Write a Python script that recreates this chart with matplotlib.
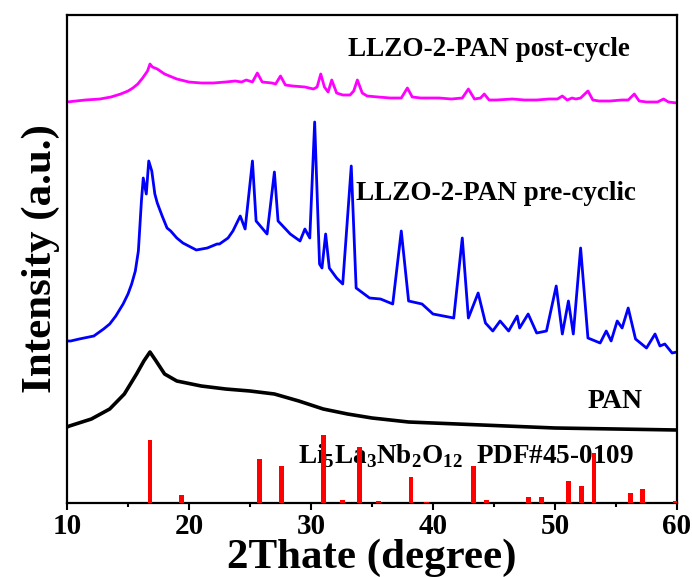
import matplotlib

matplotlib.use("Agg")
import matplotlib.pyplot as plt
from matplotlib.ticker import MultipleLocator

plt.rcParams["font.family"] = ["Liberation Serif", "DejaVu Serif"]
plt.rcParams["font.weight"] = "bold"
plt.rcParams["mathtext.fontset"] = "custom"
plt.rcParams["mathtext.rm"] = "Liberation Serif:bold"

# Post-cycle pattern (offset, arbitrary units)
post_x = [10.0, 11.5, 12.7, 13.6, 14.4, 15.0, 15.4, 15.8, 16.2, 16.6, 16.8, 17.0,
          17.4, 18.0, 19.0, 20.0, 21.0, 22.0, 23.0, 23.8, 24.3, 24.7, 25.2, 25.6,
          26.0, 26.8, 27.1, 27.5, 27.9, 28.5, 29.5, 30.2, 30.5, 30.8, 31.1, 31.4,
          31.7, 32.1, 32.6, 33.2, 33.5, 33.8, 34.2, 34.6, 35.5, 36.5, 37.4, 37.9,
          38.3, 39.0, 40.5, 41.5, 42.4, 42.9, 43.4, 43.9, 44.2, 44.6, 45.2, 46.5,
          47.5, 48.5, 49.5, 50.2, 50.6, 51.0, 51.4, 51.7, 52.1, 52.7, 53.1, 53.6,
          54.5, 55.5, 56.0, 56.5, 56.9, 57.5, 58.4, 58.9, 59.3, 60.0]
post_y = [401, 403, 404, 406, 409, 412, 415, 419, 425, 432, 439, 436,
          434, 429, 424, 421, 420, 420, 421, 422, 421, 423, 421, 430,
          421, 420, 419, 427, 418, 417, 416, 414, 416, 429, 416, 411,
          423, 410, 408, 408, 412, 423, 410, 407, 406, 405, 405, 415,
          406, 405, 405, 404, 405, 414, 404, 405, 409, 403, 403, 404,
          403, 403, 404, 404, 407, 403, 405, 404, 405, 412, 403, 402,
          402, 403, 403, 409, 402, 401, 401, 404, 401, 400]

# Pre-cycle pattern
pre_x = [10.0, 10.3, 11.0, 12.2, 13.0, 13.5, 14.0, 14.6, 15.0, 15.3, 15.6, 15.85,
         16.1, 16.25, 16.5, 16.7, 16.95, 17.2, 17.4, 17.8, 18.2, 18.5, 19.0, 19.5,
         20.6, 21.5, 22.3, 22.5, 23.2, 23.6, 24.2, 24.6, 25.2, 25.5, 26.4, 27.0,
         27.3, 28.3, 29.1, 29.5, 29.9, 30.3, 30.7, 30.9, 31.2, 31.5, 32.1, 32.6,
         33.3, 33.7, 34.8, 35.7, 36.7, 37.4, 38.0, 39.1, 40.0, 41.7, 42.4, 42.9,
         43.7, 44.3, 44.9, 45.5, 46.2, 46.9, 47.1, 47.8, 48.5, 49.3, 50.1, 50.6,
         51.1, 51.5, 52.1, 52.7, 53.7, 54.2, 54.6, 55.1, 55.5, 56.0, 56.6, 57.5,
         58.2, 58.6, 59.0, 59.6, 60.0]
pre_y = [162, 162, 164, 167, 174, 179, 187, 199, 209, 219, 232, 252,
         302, 325, 309, 342, 332, 309, 300, 287, 275, 272, 265, 260,
         253, 255, 259, 259, 265, 272, 287, 274, 342, 282, 269, 331,
         282, 269, 262, 274, 265, 381, 239, 235, 269, 235, 225, 219,
         337, 215, 205, 204, 199, 272, 202, 199, 189, 185, 265, 185,
         210, 180, 172, 182, 172, 187, 175, 189, 170, 172, 217, 169,
         202, 169, 255, 165, 160, 172, 162, 182, 175, 195, 164, 155,
         169, 157, 159, 150, 151]

# PAN pattern
pan_x = [10.0, 10.2, 12.0, 13.5, 14.7, 15.7, 16.3, 16.8, 17.3, 18.0, 19.0, 21.0,
         23.0, 25.0, 27.0, 29.0, 31.0, 33.0, 35.0, 38.0, 42.0, 46.0, 50.0, 55.0,
         60.0]
pan_y = [76, 77, 84, 94, 109, 129, 142, 151, 142, 129, 122, 117,
         114, 112, 109, 102, 94, 89, 85, 81, 79, 77, 75, 74,
         73]

# Reference pattern Li5La3Nb2O12, PDF#45-0109
ref_pos = [16.8, 19.4, 25.8, 27.6, 31.0, 32.6, 34.0, 35.5, 38.2, 39.5, 43.3, 44.4,
           47.8, 48.9, 51.1, 52.2, 53.2, 56.2, 57.2, 59.9]
ref_int = [63, 8, 44, 37, 68, 3, 56, 2, 26, 1, 37, 3,
           6, 6, 22, 17, 50, 10, 14, 2]

fig = plt.figure(figsize=(6.92, 5.77), dpi=100)
ax = fig.add_axes([67 / 692, 1 - 503 / 577, 610 / 692, 488 / 577])

ax.plot(post_x, post_y, color="#ff00ff", linewidth=2.0)
ax.plot(pre_x, pre_y, color="#0000ff", linewidth=2.0)
ax.plot(pan_x, pan_y, color="black", linewidth=2.6)
ax.bar(ref_pos, ref_int, width=0.4, color="#ff0000", bottom=0, zorder=3)

ax.text(44.6, 454, "LLZO-2-PAN post-cycle", ha="center", va="center", fontsize=19.5,
        zorder=2.5)
ax.text(33.7, 310, "LLZO-2-PAN pre-cyclic", ha="left", va="center", fontsize=19.5,
        zorder=2.5)
ax.text(57.2, 101, "PAN", ha="right", va="center", fontsize=20, zorder=2.5)
ax.text(28.9, 47, r"Li$_5$La$_3$Nb$_2$O$_{12}$  PDF#45-0109", ha="left", va="center",
        fontsize=19.5, zorder=2.5)

ax.set_xlim(10, 60)
ax.set_ylim(0, 488)
ax.xaxis.set_major_locator(MultipleLocator(10))
ax.xaxis.set_minor_locator(MultipleLocator(5))
ax.set_yticks([])
ax.tick_params(axis="x", which="major", length=5, width=1.5, labelsize=21, pad=2)
ax.tick_params(axis="x", which="minor", length=3, width=1.5)
for s in ax.spines.values():
    s.set_linewidth(1.6)

ax.set_xlabel("2Thate (degree)", fontsize=31, fontweight="bold", labelpad=-1)
ax.set_ylabel("Intensity (a.u.)", fontsize=31, fontweight="bold", labelpad=5)

fig.savefig("out.png", dpi=100)
